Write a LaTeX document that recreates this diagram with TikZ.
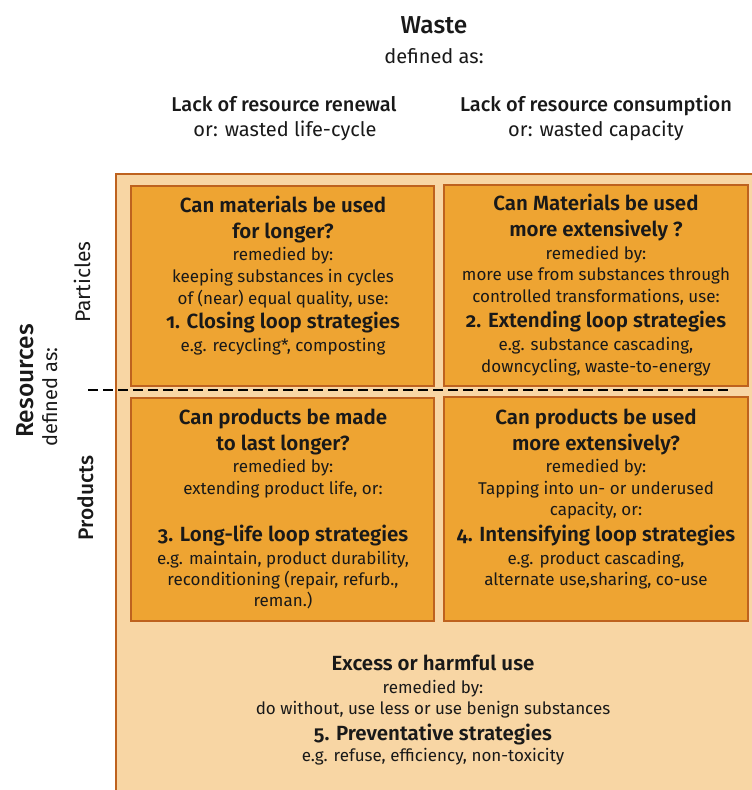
\documentclass[tikz,border=0pt]{standalone}
\usepackage{fontspec}
\setmainfont{Fira Sans}[Numbers=OldStyle, BoldFont={Fira Sans SemiBold}]
\newfontfamily\medfont{Fira Sans Medium}
\usetikzlibrary{calc}
\definecolor{peach}{RGB}{248,214,164}
\definecolor{amber}{RGB}{238,164,50}
\definecolor{rust}{RGB}{190,98,30}
\definecolor{ink}{RGB}{25,25,25}
\newcommand{\wastefont}{\fontsize{24.5}{30}\selectfont\medfont}
\newcommand{\headfont}{\fontsize{20}{24}\selectfont}
\newcommand{\leadfont}{\fontsize{20}{24}\selectfont\medfont}
\newcommand{\qfont}{\fontsize{20.5}{24}\selectfont\bfseries}
\newcommand{\remfont}{\fontsize{17}{20}\selectfont}

\begin{document}
\begin{tikzpicture}[x=1pt,y=-1pt]
      \tikzstyle{every node}=[text=ink, inner sep=0pt, anchor=base]
      \tikzstyle{question}=[font=\qfont]
      \tikzstyle{remedy}=[font=\remfont]
      \tikzstyle{heading}=[font=\headfont]
      \tikzstyle{lead}=[font=\leadfont]
      \tikzstyle{quadrant}=[fill=amber, draw=rust, line width=1.3pt]
      \useasboundingbox (0,0) rectangle (752,790);
      % Resource field
      \filldraw[fill=peach, draw=rust, line width=1.3pt] (116,174) rectangle (780,820);
      \filldraw[quadrant] (131,186) rectangle (434,386);
      \filldraw[quadrant] (444,185) rectangle (748,386);
      \filldraw[quadrant] (131,398) rectangle (434,621);
      \filldraw[quadrant] (444,397) rectangle (748,621);
      % Waste header
      \node[font=\wastefont] (waste) at (434,33.3) {Waste};
      \node[heading] (wastedef) at (434,63.3) {defined as:};
      \node[lead] (renewal) at (284,111.7) {Lack of resource renewal};
      \node[heading] (renewalor) at (285,136.7) {or: wasted life-cycle};
      \node[lead] (consump) at (596,111.7) {Lack of resource consumption};
      \node[heading] (consumpor) at (596,136.7) {or: wasted capacity};
      % Resources header
      \node[font=\wastefont, rotate=90] (res) at (33,381) {Resources};
      \node[heading, rotate=90] (resdef) at (57,397) {defined as:};
      \node[heading, rotate=90, font=\fontsize{21}{24}\selectfont] (particles) at (90,282) {Particles};
      \node[lead, rotate=90, font=\fontsize{21}{24}\selectfont\medfont] (products) at (93,498) {Products};
      % Dividing line
      \coordinate (divl) at (88,390);
      \coordinate (divr) at (728,390);
      \draw[line width=1.2pt, dash pattern=on 10pt off 5pt] (divl) -- (divr);

      % First Quadrant
      \node[question] (q1a) at (283,212.7) {Can materials be used};
      \node[question] (q1b) at (283,238.7) {for longer?};
      \node[remedy] (q1c) at (283,260.7) {remedied by:};
      \node[remedy] (q1d) at (283,282) {keeping substances in cycles};
      \node[remedy] (q1e) at (283,304) {of (near) equal quality, use:};
      \node[question] (q1f) at (283,328) {1. Closing loop strategies};
      \node[remedy] (q1g) at (283,351.7) {e.g. recycling*, composting};

      % Second Quadrant
      \node[question] (q2a) at (596,210.7) {Can Materials be used};
      \node[question] (q2b) at (596,236) {more extensively ?};
      \node[remedy] (q2c) at (596,259.3) {remedied by:};
      \node[remedy] (q2d) at (596,280.7) {more use from substances through};
      \node[remedy] (q2e) at (596,302.7) {controlled transformations, use:};
      \node[question] (q2f) at (596,327.3) {2. Extending loop strategies};
      \node[remedy] (q2g) at (596,350) {e.g. substance cascading,};
      \node[remedy] (q2h) at (596,372) {downcycling, waste-to-energy};

      % Third Quadrant
      \node[question] (q3a) at (283,424.3) {Can products be made};
      \node[question] (q3b) at (283,450) {to last longer?};
      \node[remedy] (q3c) at (283,472.7) {remedied by:};
      \node[remedy] (q3d) at (283,494) {extending product life, or:};
      \node[question] (q3e) at (283,541.7) {3. Long-life loop strategies};
      \node[remedy] (q3f) at (283,564.3) {e.g. maintain, product durability,};
      \node[remedy] (q3g) at (283,585.7) {reconditioning (repair, refurb.,};
      \node[remedy] (q3h) at (283,606.7) {reman.)};

      % Fourth Quadrant
      \node[question] (q4a) at (596,424.3) {Can products be used};
      \node[question] (q4b) at (596,450) {more extensively?};
      \node[remedy] (q4c) at (596,472.7) {remedied by:};
      \node[remedy] (q4d) at (596,494) {Tapping into un- or underused};
      \node[remedy] (q4e) at (596,515.7) {capacity, or:};
      \node[question] (q4f) at (596,541.7) {4. Intensifying loop strategies};
      \node[remedy] (q4g) at (596,564.3) {e.g. product cascading,};
      \node[remedy] (q4h) at (596,585) {alternate use,sharing, co-use};

      % Preventative field
      \node[question] (p5a) at (433,670) {Excess or harmful use};
      \node[remedy] (p5b) at (433,693.3) {remedied by:};
      \node[remedy] (p5c) at (433,714) {do without, use less or use benign substances};
      \node[question] (p5d) at (433,740) {5. Preventative strategies};
      \node[remedy] (p5e) at (433,761.7) {e.g. refuse, efficiency, non-toxicity};
\end{tikzpicture}
\end{document}
